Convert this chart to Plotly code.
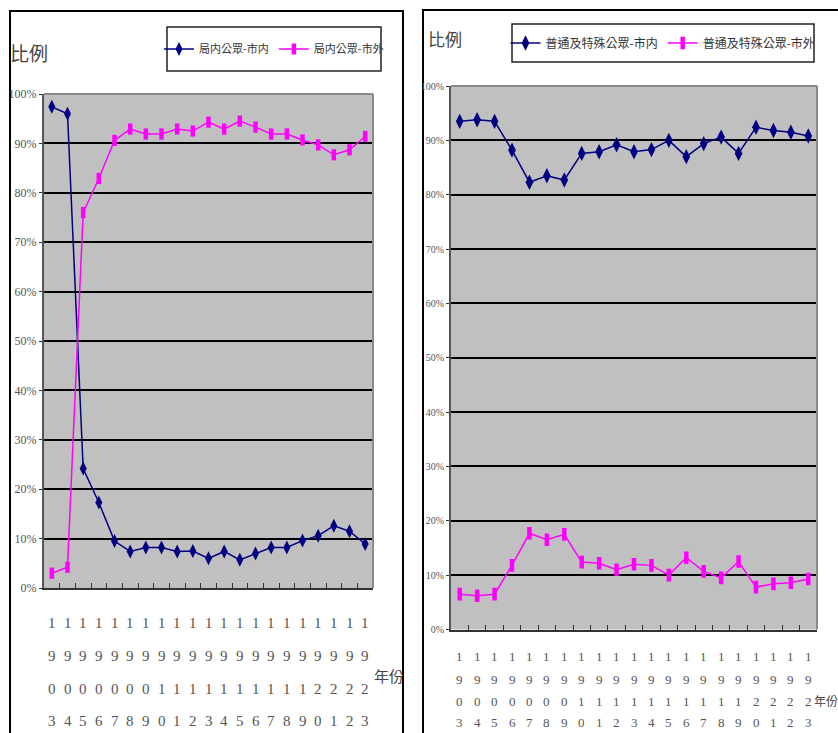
import plotly.graph_objects as go

W, H = 838, 733

years = [str(y) for y in range(1903, 1924)]

# Left chart: 局内公眾
left_in = [97.4, 96.0, 24.2, 17.3, 9.5, 7.4, 8.2, 8.2, 7.4, 7.5, 6.0,
           7.4, 5.7, 7.0, 8.2, 8.2, 9.6, 10.6, 12.6, 11.5, 8.9]
left_out = [3.0, 4.2, 76.0, 82.9, 90.6, 92.9, 91.9, 91.9, 92.9, 92.5, 94.3,
            92.9, 94.5, 93.3, 91.9, 91.9, 90.7, 89.7, 87.7, 88.7, 91.4]

# Right chart: 普通及特殊公眾
right_in = [93.5, 93.8, 93.5, 88.2, 82.3, 83.5, 82.7, 87.6, 87.9, 89.2, 87.9,
            88.3, 90.0, 87.0, 89.4, 90.6, 87.6, 92.4, 91.8, 91.5, 90.8]
right_out = [6.5, 6.2, 6.5, 11.8, 17.7, 16.5, 17.5, 12.4, 12.2, 11.0, 12.0,
             11.8, 10.0, 13.2, 10.7, 9.5, 12.5, 7.8, 8.4, 8.6, 9.3]

left_names = ["局内公眾-市内", "局内公眾-市外"]
right_names = ["普通及特殊公眾-市内", "普通及特殊公眾-市外"]
y_title = "比例"
x_title = "年份"

NAVY = "#000080"
MAG = "#FF00FF"
CJK = "Noto Sans CJK TC"
SERIF = "Liberation Serif"


def px(x):
    return x / W


def py(y):
    return 1 - y / H


# plot areas in pixels
L = dict(x0=44, x1=373, y0=94, y1=588)
R = dict(x0=451, x1=817, y0=86, y1=629.5)

fig = go.Figure()


def add_pair(vin, vout, names, xa, ya, leg, msize):
    fig.add_trace(go.Scatter(
        x=years, y=[v / 100 for v in vin], name=names[0], mode="lines+markers",
        line=dict(color=NAVY, width=1.5),
        marker=dict(symbol="diamond-tall", size=msize + 2, color=NAVY),
        xaxis=xa, yaxis=ya, legend=leg))
    fig.add_trace(go.Scatter(
        x=years, y=[v / 100 for v in vout], name=names[1], mode="lines+markers",
        line=dict(color=MAG, width=1.5),
        marker=dict(symbol="line-ns", size=msize, color=MAG,
                    line=dict(color=MAG, width=4.5)),
        xaxis=xa, yaxis=ya, legend=leg))


add_pair(left_in, left_out, left_names, "x", "y", "legend", 8)
add_pair(right_in, right_out, right_names, "x2", "y2", "legend2", 9)

xcommon = dict(type="category", range=[-0.5, len(years) - 0.5],
               showgrid=False, showticklabels=False, ticks="inside",
               tickson="boundaries", ticklen=5, tickcolor="#333", tickwidth=1,
               showline=True, linecolor="#333", linewidth=2, zeroline=False,
               fixedrange=True)
ycommon = dict(range=[0, 1], dtick=0.1, tickformat=".0%", showgrid=True,
               gridcolor="#000000", gridwidth=1.5, zeroline=False,
               showline=True, linecolor="#555", linewidth=2,
               ticks="outside", ticklen=3, tickcolor="#333", automargin=False)

fig.update_layout(
    width=W, height=H,
    margin=dict(l=0, r=0, t=0, b=0, autoexpand=False),
    paper_bgcolor="white",
    plot_bgcolor="#C0C0C0",
    xaxis=dict(domain=[px(L["x0"]), px(L["x1"])], anchor="y", **xcommon),
    yaxis=dict(domain=[py(L["y1"]), py(L["y0"])], anchor="x",
               tickfont=dict(family=SERIF, size=12, color="#555"), **ycommon),
    xaxis2=dict(domain=[px(R["x0"]), px(R["x1"])], anchor="y2", **xcommon),
    yaxis2=dict(domain=[py(R["y1"]), py(R["y0"])], anchor="x2",
                tickfont=dict(family=SERIF, size=10, color="#555"), **ycommon),
    legend=dict(orientation="h", x=px(274), y=py(49), xanchor="center",
                yanchor="middle", bgcolor="rgba(0,0,0,0)", borderwidth=0,
                itemwidth=30, font=dict(family=CJK, size=11, color="#333")),
    legend2=dict(orientation="h", x=px(663), y=py(43), xanchor="center",
                 yanchor="middle", bgcolor="rgba(0,0,0,0)", borderwidth=0,
                 itemwidth=30, font=dict(family=CJK, size=12, color="#333")),
    showlegend=True,
)

shapes = []
# panel borders
shapes.append(dict(type="rect", xref="paper", yref="paper",
                   x0=px(10), x1=px(403), y0=py(745), y1=py(11),
                   line=dict(color="black", width=2), layer="below"))
shapes.append(dict(type="rect", xref="paper", yref="paper",
                   x0=px(423), x1=px(850), y0=py(745), y1=py(10),
                   line=dict(color="black", width=2), layer="below"))
# legend boxes
shapes.append(dict(type="rect", xref="paper", yref="paper",
                   x0=px(167), x1=px(381), y0=py(71), y1=py(27),
                   line=dict(color="#222", width=1.5)))
shapes.append(dict(type="rect", xref="paper", yref="paper",
                   x0=px(512), x1=px(814), y0=py(62), y1=py(24),
                   line=dict(color="#222", width=1.5)))
# grey top / right borders of plot areas
for P in (L, R):
    shapes.append(dict(type="line", xref="paper", yref="paper",
                       x0=px(P["x0"]), x1=px(P["x1"]), y0=py(P["y0"]), y1=py(P["y0"]),
                       line=dict(color="#8a8a8a", width=2)))
    shapes.append(dict(type="line", xref="paper", yref="paper",
                       x0=px(P["x1"]), x1=px(P["x1"]), y0=py(P["y0"]), y1=py(P["y1"]),
                       line=dict(color="#8a8a8a", width=2)))
fig.update_layout(shapes=shapes)

ann = []
common_a = dict(showarrow=False, xanchor="center", yanchor="middle")
# y titles
ann.append(dict(text=y_title, x=px(29), y=py(52), xref="paper", yref="paper",
                font=dict(family=CJK, size=19, color="#444"), **common_a))
ann.append(dict(text=y_title, x=px(445), y=py(39), xref="paper", yref="paper",
                font=dict(family=CJK, size=17, color="#444"), **common_a))
# x titles
ann.append(dict(text=x_title, x=px(389), y=py(675), xref="paper", yref="paper",
                font=dict(family=CJK, size=15, color="#444"), **common_a))
ann.append(dict(text=x_title, x=px(825.5), y=py(700), xref="paper", yref="paper",
                font=dict(family=CJK, size=12, color="#444"), **common_a))
# vertical-digit category labels
left_rows = [623, 656, 689, 721]
right_rows = [656, 679, 701, 722]
for xr, rows, fs in (("x", left_rows, 15), ("x2", right_rows, 13)):
    for i, yr in enumerate(years):
        for k, ch in enumerate(yr):
            ann.append(dict(text=ch, x=i, xref=xr, y=py(rows[k]), yref="paper",
                            font=dict(family=SERIF, size=fs, color="#555"),
                            **common_a))
fig.update_layout(annotations=ann)

fig.write_html("out.html")
